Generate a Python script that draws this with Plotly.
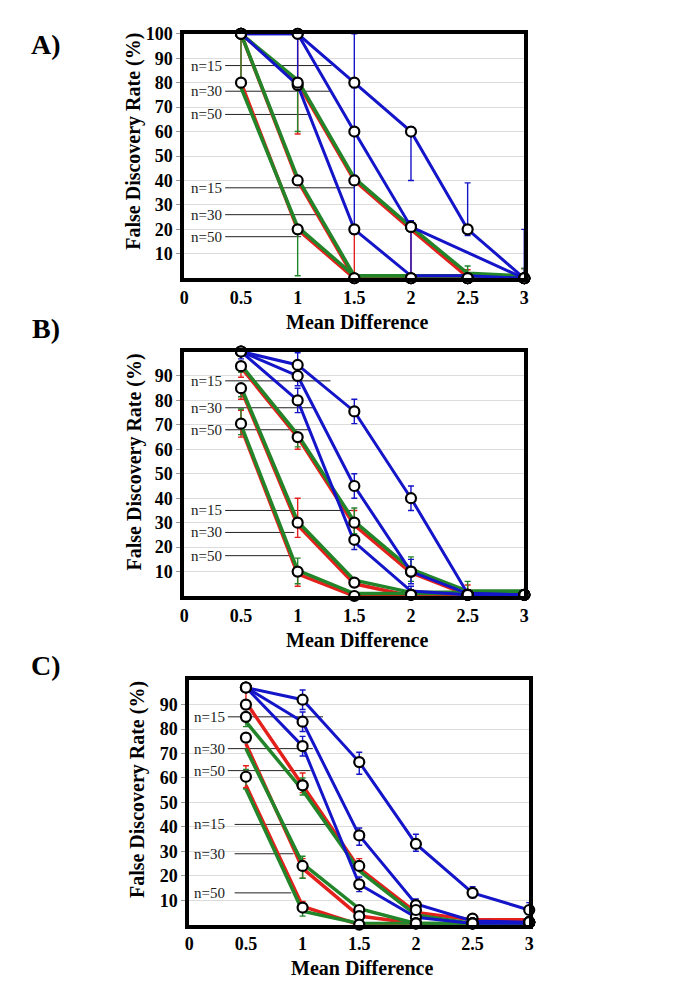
import plotly.graph_objects as go

# ---------------- data ----------------
x_vals = [0.5, 1.0, 1.5, 2.0, 2.5, 3.0]
x_tickvals = [0, 0.5, 1, 1.5, 2, 2.5, 3]
x_ticktext = ["0", "0.5", "1", "1.5", "2", "2.5", "3"]
yA_tickvals = [10, 20, 30, 40, 50, 60, 70, 80, 90, 100]
yBC_tickvals = [10, 20, 30, 40, 50, 60, 70, 80, 90]
n_labels = ["n=15", "n=30", "n=50", "n=15", "n=30", "n=50"]

# Panel A
A_blue = [[100, 100, 80, 60, 20, 0],
          [100, 100, 60, 21, None, 0],
          [100, 79, 20, 1, 1, 0]]
A_red = [[100, 80, 40, 20, 0.5, 0],
         [100, 40, 0, 0, 0, 0],
         [80, 20, 0, 0, 0, 0]]
A_green = [[100, 81, 41, 21, 2, 1],
           [100, 41, 1, 1, 1, 1],
           [78, 21, 1, 1, 1, 1]]
A_circ = [[100, 100, 80, 60, 20, 0],
          [100, 100, 60, 21, None, 0],
          [100, 79, 20, 0, 0, 0],
          [100, 80, 40, 21, 0, 0],
          [100, 40, 0, 0, 0, 0],
          [80, 20, 0, 0, 0, 0]]
A_blue_up = [[0, 0, 20, 2, 19, 20], [0, 0, 18, 2.5, 0, 0], [0, 19, 22, 0, 0, 0]]
A_blue_dn = [[0, 0, 2, 20, 2.5, 0], [0, 0, 20, 19.5, 0, 0], [0, 0, 2, 0, 0, 0]]
A_red_up = [[0, 20, 0, 0, 3, 4], [0, 0, 19, 0, 0, 0], [20, 0, 0, 0, 0, 0]]
A_red_dn = [[0, 21, 0, 20, 0, 0], [0, 2, 0, 0, 0, 0], [2, 0, 0, 0, 0, 0]]
A_green_up = [[0, 0, 0, 0, 3, 3], [0, 0, 0, 0, 0, 0], [3, 0, 0, 0, 0, 0]]
A_green_dn = [[0, 21, 0, 0, 0, 0], [19, 0, 0, 0, 0, 0], [0, 20, 0, 0, 0, 0]]
A_lab_y = [87, 76.5, 67, 37, 26, 17]
A_lab_end = [1.30, 1.29, 1.09, 1.50, 1.17, 1.03]

# Panel B
B_blue = [[100, 94.5, 75.5, 40, 1, 0.5],
          [100, 90, 45, 10, 1, 0.5],
          [100, 80, 22, 2, 0.5, 0.5]]
B_red = [[93.5, 65, 29, 9.5, 0.5, 0],
         [84.5, 29, 5, 0, 0, 0],
         [69, 9, 0, 0, 0, 0]]
B_green = [[94.5, 66, 30.5, 11, 2, 2],
           [85.5, 30.5, 6.5, 1.5, 1.5, 1.5],
           [70, 10.5, 1, 1, 1, 1]]
B_circ = [[100, 94.5, 75.5, 40, 0.5, 0.5],
          [100, 90, 45, 10, 0.5, 0.5],
          [100, 80, 23, 0.5, 0.5, 0.5],
          [94, 65, 30, 10, 0.5, 0.5],
          [85, 30, 5.5, 0.5, 0.5, 0.5],
          [70.5, 10, 0, 0.5, 0.5, 0.5]]
B_blue_up = [[0, 5, 5, 5, 0, 0], [0, 4, 5, 5, 0, 0], [0, 5, 2.5, 2, 0, 0]]
B_blue_dn = [[3, 4, 5, 5, 0, 0], [0, 4, 5, 5, 0, 0], [0, 5, 3, 1.5, 0, 0]]
B_red_up = [[0, 0, 6, 0, 4, 2], [0, 11, 2, 0, 0, 0], [7, 0, 0, 0, 0, 0]]
B_red_dn = [[4, 5, 5, 0, 0, 0], [4, 5, 0, 0, 0, 0], [4, 5, 0, 0, 0, 0]]
B_green_up = [[0, 0, 5.5, 5, 4, 0], [0, 0, 0, 0, 0, 0], [6.5, 5, 0, 0, 0, 0]]
B_green_dn = [[3, 5, 5, 5, 0, 0], [4, 0, 0, 0, 0, 0], [4, 5.5, 0, 0, 0, 0]]
B_lab_y = [88, 77, 68, 35, 26, 16.5]
B_lab_end = [1.29, 1.14, 1.10, 1.52, 0.97, 0.94]

# Panel C
C_blue = [[97, 92, 66.5, 33, 13, 6],
          [97, 83, 36.5, 8.5, 1.5, 1],
          [97, 73, 16.5, 3, 0.5, 0.5]]
C_red = [[91, 57, 23, 5, 2, 2],
         [74, 23, 3.5, 0.5, 0, 0],
         [57, 7.5, 0, 0, 0, 0]]
C_green = [[83, 55, 22, 4, 0.5, 0.5],
           [72, 25, 6.5, 0.5, 0.5, 0.5],
           [55.5, 5.5, 0.5, 0.5, 0.5, 0.5]]
C_circ = [[97, 92, 66.5, 33, 13, 6],
          [97, 83, 36.5, 8, 2.5, 1],
          [97, 73, 16.5, 3, 0.5, 1],
          [90, 57, 24, 6, 0.5, 1],
          [85, 57, 6, 0.5, 0.5, 1],
          [76.5, 24, 3.5, 0.5, 0.5, 1],
          [60.5, 7, 0, 0.5, 0.5, 1]]
C_blue_up = [[2, 4, 4, 4, 2.5, 3], [0, 4, 3, 2, 0, 0], [0, 4, 3, 0, 0, 0]]
C_blue_dn = [[0, 4, 5, 3, 2, 0], [0, 4, 4, 0, 0, 0], [0, 4, 3, 0, 0, 0]]
C_red_up = [[4, 5, 4, 0, 1, 0], [0, 4, 0, 0, 0, 0], [8, 2, 0, 0, 0, 0]]
C_red_dn = [[0, 3, 0, 0, 0, 0], [0, 4, 0, 0, 0, 0], [1, 2, 0, 0, 0, 0]]
C_green_up = [[2, 5, 0, 0, 0, 0], [0, 3, 0, 0, 0, 0], [8, 3, 0, 0, 0, 0]]
C_green_dn = [[2, 2, 0, 0, 0, 0], [0, 6, 0, 0, 0, 0], [0, 2, 0, 0, 0, 0]]
C_lab_y = [85, 72, 63, 41, 29, 13]
C_lab_end = [1.18, 1.09, 1.07, 1.22, 0.92, 0.90]

# ---------------- style ----------------
BLUE = "#1414c8"
RED = "#e3201b"
GREEN = "#23852a"
SERIF = "Liberation Serif, Times New Roman, serif"
W, H = 685, 989

panels = [
    dict(name="A", blue=A_blue, red=A_red, green=A_green, circ=A_circ,
         bu=A_blue_up, bd=A_blue_dn, ru=A_red_up, rd=A_red_dn, gu=A_green_up, gd=A_green_dn,
         lab_y=A_lab_y, lab_end=A_lab_end, ytick=yA_tickvals,
         px_x=(182, 527), px_y=(24, 271), lab_x0=(0.35, 0.35), ytitle=133, letter_y=35),
    dict(name="B", blue=B_blue, red=B_red, green=B_green, circ=B_circ,
         bu=B_blue_up, bd=B_blue_dn, ru=B_red_up, rd=B_red_dn, gu=B_green_up, gd=B_green_dn,
         lab_y=B_lab_y, lab_end=B_lab_end, ytick=yBC_tickvals,
         px_x=(182, 527), px_y=(345, 592), lab_x0=(0.35, 0.35), ytitle=457, letter_y=322),
    dict(name="C", blue=C_blue, red=C_red, green=C_green, circ=C_circ,
         bu=C_blue_up, bd=C_blue_dn, ru=C_red_up, rd=C_red_dn, gu=C_green_up, gd=C_green_dn,
         lab_y=C_lab_y, lab_end=C_lab_end, ytick=yBC_tickvals,
         px_x=(187, 532), px_y=(677, 924), lab_x0=(0.33, 0.39), ytitle=788, letter_y=662),
]

fig = go.Figure()
layout = dict(width=W, height=H, autosize=False, margin=dict(l=0, r=0, t=0, b=0),
              paper_bgcolor="white", plot_bgcolor="white", showlegend=False,
              annotations=[])


def err_trace(xs, ys, up, dn, color, xa, ya):
    px, py, pu, pd = [], [], [], []
    for x, y, u, d in zip(xs, ys, up, dn):
        if y is None or (u == 0 and d == 0):
            continue
        px.append(x); py.append(y); pu.append(u); pd.append(d)
    if not px:
        return None
    return go.Scatter(x=px, y=py, mode="markers", xaxis=xa, yaxis=ya,
                      marker=dict(size=1, color="rgba(0,0,0,0)"),
                      error_y=dict(type="data", symmetric=False, array=pu, arrayminus=pd,
                                   color=color, thickness=1.4, width=3),
                      hoverinfo="skip", cliponaxis=False)


for i, p in enumerate(panels):
    k = "" if i == 0 else str(i + 1)
    xa, ya = "x" + k, "y" + k
    x0, x1 = p["px_x"]
    ytop, ybot = p["px_y"]
    layout["xaxis" + k] = dict(domain=[x0 / W, x1 / W], range=[0, 3], anchor=ya,
                               tickvals=x_tickvals, ticktext=x_ticktext,
                               showgrid=False, zeroline=False, showline=True, mirror=True,
                               linecolor="black", linewidth=4, ticks="",
                               tickfont=dict(family=SERIF, size=18, color="black", weight="bold"))
    layout["yaxis" + k] = dict(domain=[1 - ybot / H, 1 - ytop / H], range=[0, 100], anchor=xa,
                               tickvals=p["ytick"], showgrid=True, gridcolor="#dcdcdc", gridwidth=1,
                               zeroline=False, showline=True, mirror=True,
                               linecolor="black", linewidth=4, ticks="outside", ticklen=4,
                               tickcolor="#999", tickwidth=1,
                               tickfont=dict(family=SERIF, size=18, color="black", weight="bold"))

    # leader lines for n labels
    for j, (ly, le) in enumerate(zip(p["lab_y"], p["lab_end"])):
        xs0 = p["lab_x0"][0] if j < 3 else p["lab_x0"][1]
        fig.add_trace(go.Scatter(x=[xs0 + 0.01, le], y=[ly, ly], mode="lines", xaxis=xa, yaxis=ya,
                                 line=dict(color="#222", width=1), hoverinfo="skip"))
        layout["annotations"].append(dict(x=p["lab_x0"][0], y=ly,
                                          xref=xa, yref=ya, text=n_labels[j], showarrow=False,
                                          xanchor="right", yanchor="middle",
                                          font=dict(family=SERIF, size=15, color="#222")))

    # error bars
    for series, ups, dns, col in [(p["red"], p["ru"], p["rd"], RED),
                                  (p["green"], p["gu"], p["gd"], GREEN),
                                  (p["blue"], p["bu"], p["bd"], BLUE)]:
        for ys, u, d in zip(series, ups, dns):
            t = err_trace(x_vals, ys, u, d, col, xa, ya)
            if t is not None:
                fig.add_trace(t)

    # lines
    for ys in p["red"]:
        fig.add_trace(go.Scatter(x=x_vals, y=ys, mode="lines", xaxis=xa, yaxis=ya,
                                 line=dict(color=RED, width=3.5), cliponaxis=False,
                                 connectgaps=True, hoverinfo="skip"))
    for ys in p["green"]:
        fig.add_trace(go.Scatter(x=x_vals, y=ys, mode="lines", xaxis=xa, yaxis=ya,
                                 line=dict(color=GREEN, width=3.5), cliponaxis=False,
                                 connectgaps=True, hoverinfo="skip"))
    for ys in p["blue"]:
        fig.add_trace(go.Scatter(x=x_vals, y=ys, mode="lines", xaxis=xa, yaxis=ya,
                                 line=dict(color=BLUE, width=3), cliponaxis=False,
                                 connectgaps=True, hoverinfo="skip"))
    # open circles
    for ys in p["circ"]:
        fig.add_trace(go.Scatter(x=x_vals, y=ys, mode="markers", xaxis=xa, yaxis=ya,
                                 marker=dict(symbol="circle", size=10, color="white",
                                             line=dict(color="black", width=2.2)),
                                 cliponaxis=False, hoverinfo="skip"))

    # axis titles and panel letter
    cx = (x0 + x1) / 2
    layout["annotations"].append(dict(x=(131 if i < 2 else 134) / W, y=1 - p["ytitle"] / H,
                                      xref="paper", yref="paper", text="False Discovery Rate (%)",
                                      textangle=-90, showarrow=False, xanchor="center", yanchor="middle",
                                      font=dict(family=SERIF, size=20, color="black", weight="bold")))
    layout["annotations"].append(dict(x=(cx + 3) / W, y=1 - (ybot + 44) / H,
                                      xref="paper", yref="paper", text="Mean Difference",
                                      showarrow=False, xanchor="center", yanchor="middle",
                                      font=dict(family=SERIF, size=20, color="black", weight="bold")))
    layout["annotations"].append(dict(x=42 / W, y=1 - p["letter_y"] / H, xref="paper", yref="paper",
                                      text=p["name"] + ")", showarrow=False,
                                      xanchor="center", yanchor="middle",
                                      font=dict(family=SERIF, size=28, color="black", weight="bold")))

fig.update_layout(**layout)
fig.write_html("out.html", config={"displayModeBar": False},
               post_script="document.body.style.margin='0';document.body.style.padding='0';"
                           "document.documentElement.style.overflow='hidden';")
